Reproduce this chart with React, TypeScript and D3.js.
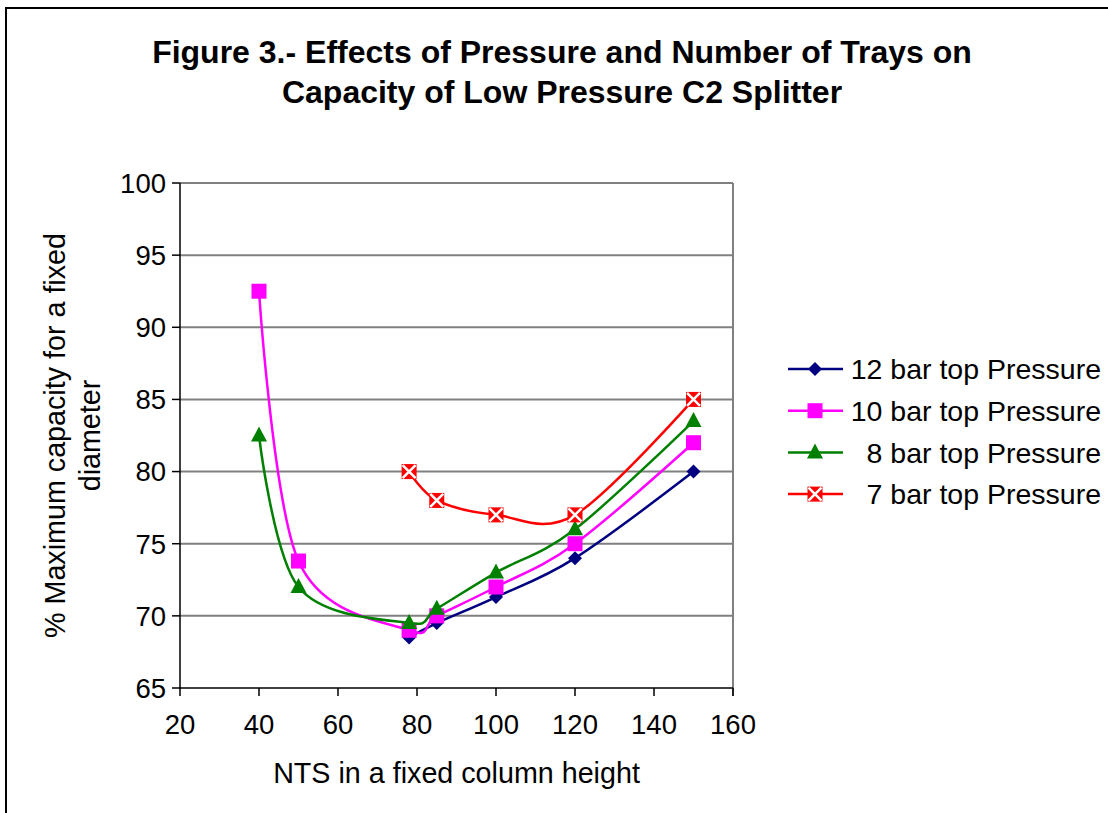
import React from 'react';
import * as d3 from 'd3';

const width = 1108;
const height = 813;
const margin = { top: 183, left: 180, bottom: 125, right: 375 };

const xTicks = [20, 40, 60, 80, 100, 120, 140, 160];
const yTicks = [65, 70, 75, 80, 85, 90, 95, 100];

const seriesNames = ['12 bar top Pressure', '10 bar top Pressure', '8 bar top Pressure', '7 bar top Pressure'];
const seriesColors = ['#000080', '#FF00FF', '#008000', '#FF0000'];
const seriesMarkers = ['diamond', 'square', 'triangle', 'xsquare'];

const nts12 = [78, 85, 100, 120, 150];
const cap12 = [68.5, 69.5, 71.3, 74, 80];
const nts10 = [40, 50, 78, 85, 100, 120, 150];
const cap10 = [92.5, 73.8, 69, 70, 72, 75, 82];
const nts8 = [40, 50, 78, 85, 100, 120, 150];
const cap8 = [82.5, 72, 69.5, 70.5, 73, 76, 83.5];
const nts7 = [78, 85, 100, 120, 150];
const cap7 = [80, 78, 77, 77, 85];

const xs = [nts12, nts10, nts8, nts7];
const ys = [cap12, cap10, cap8, cap7];

const font = 'Liberation Sans, Arial, sans-serif';

const Marker = ({ type, color, cx, cy }) => {
    if (type === 'diamond') {
        const r = 7;
        return <path d={`M${cx},${cy - r}L${cx + r},${cy}L${cx},${cy + r}L${cx - r},${cy}Z`} fill={color} />;
    }
    if (type === 'square') {
        const s = 7.5;
        return <rect x={cx - s} y={cy - s} width={s * 2} height={s * 2} fill={color} />;
    }
    if (type === 'triangle') {
        return <path d={`M${cx},${cy - 9}L${cx + 8},${cy + 6}L${cx - 8},${cy + 6}Z`} fill={color} />;
    }
    const s = 7.5;
    return (
        <g>
            <rect x={cx - s} y={cy - s} width={s * 2} height={s * 2} fill={color} />
            <path d={`M${cx - s + 1},${cy - s + 1}L${cx + s - 1},${cy + s - 1}M${cx + s - 1},${cy - s + 1}L${cx - s + 1},${cy + s - 1}`}
                stroke="#fff" strokeWidth={2.5} />
        </g>
    );
};

const App = () => {
    const x = d3.scaleLinear().domain([20, 160]).range([margin.left, width - margin.right]);
    const y = d3.scaleLinear().domain([65, 100]).range([margin.top, height - margin.bottom].reverse());

    const line = d3.line()
        .x(d => x(d[0]))
        .y(d => y(d[1]))
        .curve(d3.curveCardinal.tension(0));

    const x0 = x(20), x1 = x(160), y0 = y(65), y1 = y(100);

    return (
        <svg width={width} height={height} style={{ position: 'absolute', left: 0, top: 0, background: '#fff' }}
            fontFamily={font}>
            <rect x={6} y={8} width={width + 20} height={height + 20} fill="none" stroke="#000" strokeWidth={2} />

            <text x={562} y={63} textAnchor="middle" fontSize={32} fontWeight="bold">
                Figure 3.- Effects of Pressure and Number of Trays on
            </text>
            <text x={562} y={103} textAnchor="middle" fontSize={32} fontWeight="bold">
                Capacity of Low Pressure C2 Splitter
            </text>

            {/* grid */}
            {yTicks.slice(1).map(t => (
                <line key={t} x1={x0} x2={x1} y1={y(t)} y2={y(t)} stroke="#808080" strokeWidth={2} />
            ))}
            <line x1={x1} x2={x1} y1={y1} y2={y0 + 8} stroke="#808080" strokeWidth={2} />

            {/* axes */}
            <line x1={x0} x2={x0} y1={y1} y2={y0} stroke="#000" strokeWidth={1.5} />
            <line x1={x0 - 1} x2={x1} y1={y0} y2={y0} stroke="#000" strokeWidth={1.5} />
            {yTicks.map(t => (
                <g key={t}>
                    <line x1={x0 - 8} x2={x0} y1={y(t)} y2={y(t)} stroke="#000" strokeWidth={1.5} />
                    <text x={x0 - 14} y={y(t)} dy="0.36em" textAnchor="end" fontSize={27.5}>{t}</text>
                </g>
            ))}
            {xTicks.map(t => (
                <g key={t}>
                    <line x1={x(t)} x2={x(t)} y1={y0} y2={y0 + 8} stroke="#000" strokeWidth={1.5} />
                    <text x={x(t)} y={y0 + 46} textAnchor="middle" fontSize={27.5}>{t}</text>
                </g>
            ))}

            <text x={(x0 + x1) / 2} y={783} textAnchor="middle" fontSize={28.7}>NTS in a fixed column height</text>
            <text transform={`translate(65,${(y0 + y1) / 2}) rotate(-90)`} textAnchor="middle" fontSize={28.7}>
                % Maximum capacity for a fixed
            </text>
            <text transform={`translate(100,${(y0 + y1) / 2}) rotate(-90)`} textAnchor="middle" fontSize={28.7}>
                diameter
            </text>

            {/* series */}
            {seriesNames.map((name, i) => {
                const pts = xs[i].map((v, j) => [v, ys[i][j]]);
                return (
                    <g key={name}>
                        <path d={line(pts)} fill="none" stroke={seriesColors[i]} strokeWidth={2.5} />
                        {pts.map((p, j) => (
                            <Marker key={j} type={seriesMarkers[i]} color={seriesColors[i]} cx={x(p[0])} cy={y(p[1])} />
                        ))}
                    </g>
                );
            })}

            {/* legend */}
            {seriesNames.map((name, i) => {
                const ly = 369 + i * 41.7;
                return (
                    <g key={name}>
                        <line x1={788} x2={843} y1={ly} y2={ly} stroke={seriesColors[i]} strokeWidth={2.5} />
                        <Marker type={seriesMarkers[i]} color={seriesColors[i]} cx={815} cy={ly} />
                        <text x={1101} y={ly} dy="0.36em" textAnchor="end" fontSize={28.5}>{name}</text>
                    </g>
                );
            })}
        </svg>
    );
};

export default App;
